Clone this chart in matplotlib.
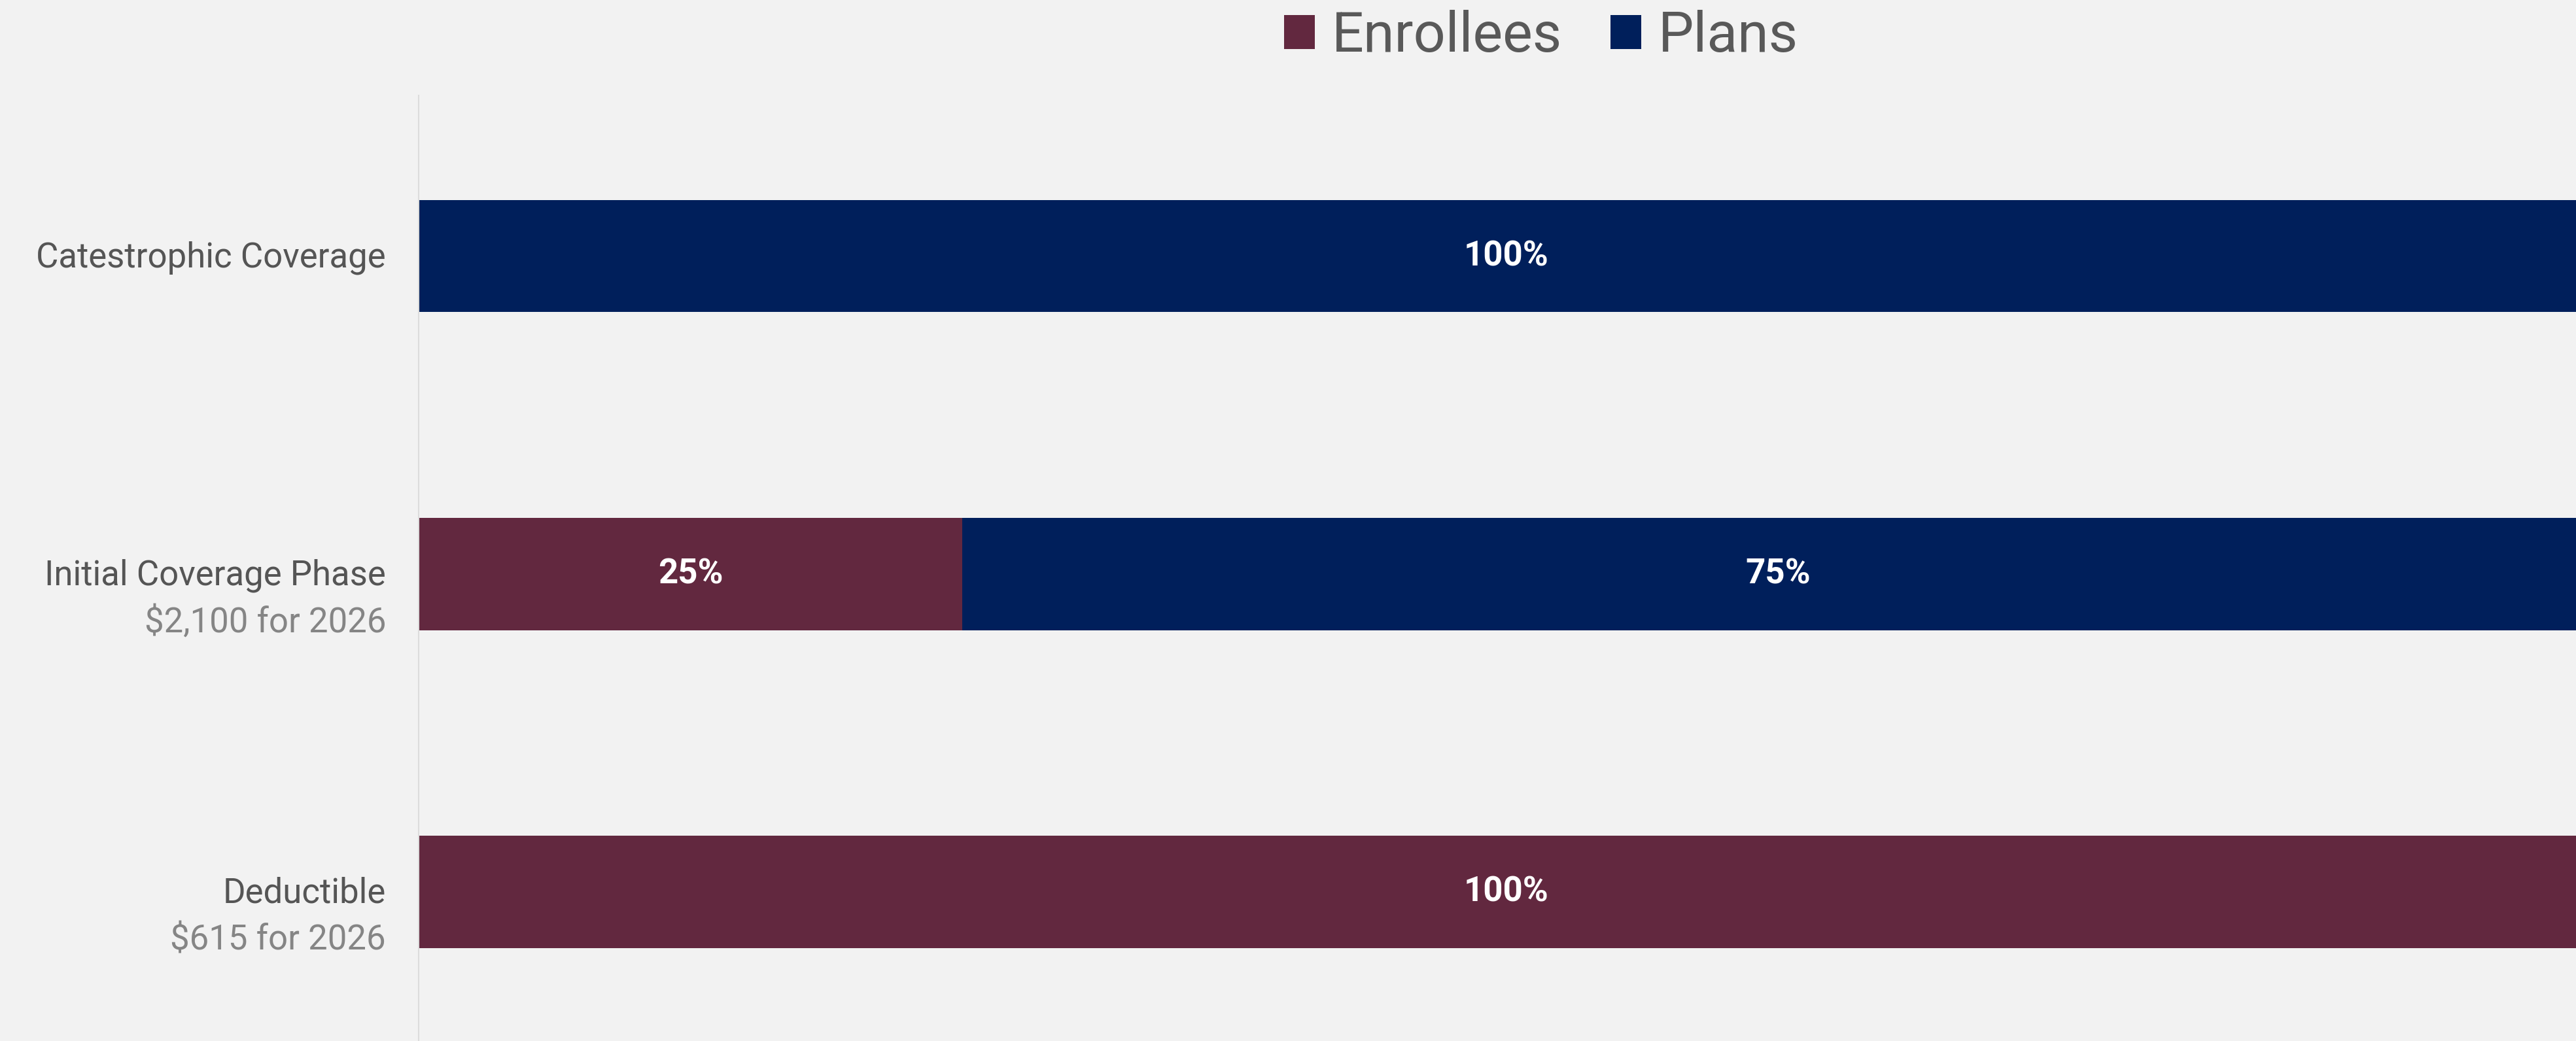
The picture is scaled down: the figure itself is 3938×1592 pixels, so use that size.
import matplotlib
matplotlib.use("Agg")
import matplotlib.pyplot as plt
from matplotlib.patches import Patch
from matplotlib.transforms import blended_transform_factory

plt.rcParams["font.family"] = ["Roboto", "DejaVu Sans"]

# bottom to top
categories = ["Deductible", "Initial Coverage Phase", "Catestrophic Coverage"]
subtitles = ["$615 for 2026", "$2,100 for 2026", ""]
enrollees = [100, 25, 0]
plans = [0, 75, 100]
series_names = ["Enrollees", "Plans"]

colors = {"Enrollees": "#62283f", "Plans": "#001f5b"}
bg = "#f2f2f2"

W, H = 3938, 1592
fig = plt.figure(figsize=(W / 100, H / 100), dpi=100, facecolor=bg)
# plot area runs a little past the right edge of the canvas
ax = fig.add_axes([640 / W, 0, (3965 - 640) / W, (H - 146) / H], facecolor=bg)

ypos = list(range(len(categories)))
bar_h = 0.352

ax.barh(ypos, enrollees, height=bar_h, color=colors["Enrollees"], label="Enrollees")
ax.barh(ypos, plans, left=enrollees, height=bar_h, color=colors["Plans"], label="Plans")

# percentage labels in the middle of each segment
for y, e, p in zip(ypos, enrollees, plans):
    for left, val in ((0, e), (e, p)):
        if val > 0:
            ax.text(left + val / 2, y, f"{val}%", ha="center", va="center",
                    color="white", fontsize=38, fontweight="bold")

ax.set_xlim(0, 100)
ax.set_ylim(-0.469, 2.506)

for side in ("top", "right", "bottom"):
    ax.spines[side].set_visible(False)
ax.spines["left"].set_color("#dcdcdc")
ax.spines["left"].set_linewidth(1.5)
ax.set_xticks([])
ax.set_yticks([])

# category names with the cost line underneath
trans = blended_transform_factory(ax.transAxes, ax.transData)
for y, name, sub in zip(ypos, categories, subtitles):
    ax.annotate(name, xy=(0, y), xycoords=trans, xytext=(-50, -2),
                textcoords="offset pixels", ha="right", va="center",
                fontsize=38, color="#555555")
    if sub:
        ax.annotate(sub, xy=(0, y), xycoords=trans, xytext=(-50, -74),
                    textcoords="offset pixels", ha="right", va="center",
                    fontsize=38, color="#858585")

handles = [Patch(facecolor=colors[n], edgecolor="none") for n in series_names]
fig.legend(handles, series_names, loc="center", bbox_to_anchor=(2356 / W, 1 - 56 / H),
           ncol=2, frameon=False, fontsize=62, labelcolor="#595959",
           handlelength=0.55, handleheight=0.55, handletextpad=0.3,
           columnspacing=0.85)

fig.savefig("out.png", dpi=100, facecolor=bg)
